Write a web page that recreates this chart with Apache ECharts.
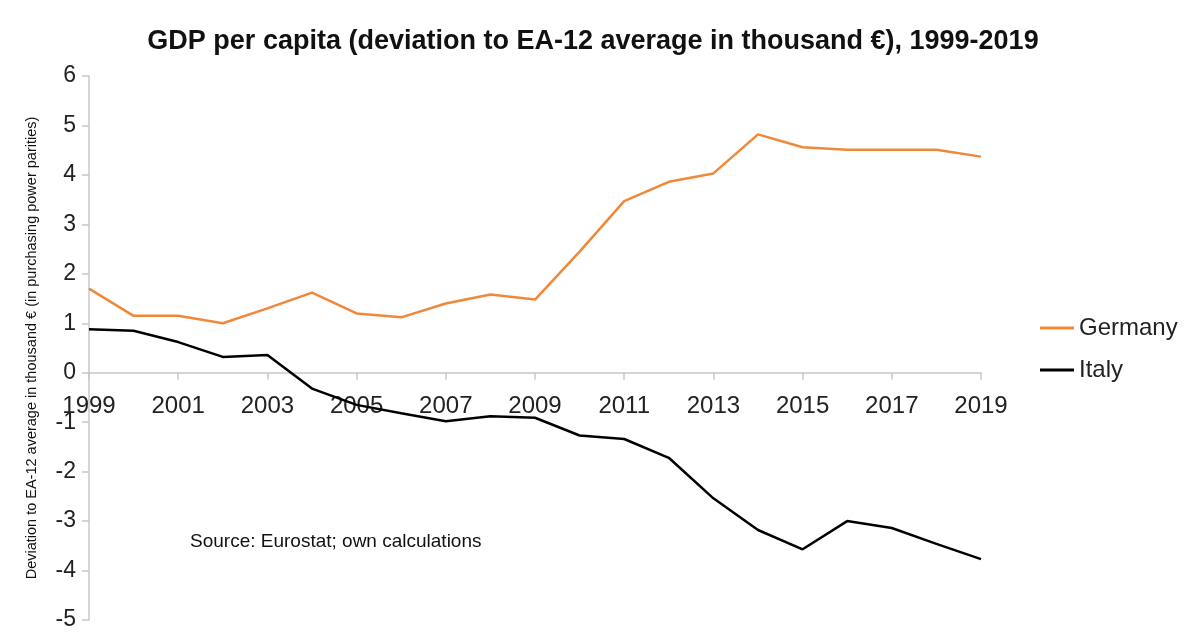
<!DOCTYPE html>
<html>
<head>
<meta charset="utf-8">
<script src="https://cdn.jsdelivr.net/npm/echarts@6/dist/echarts.min.js"></script>
<style>html,body{margin:0;padding:0;background:#fff}#c{width:1200px;height:643px}</style>
</head>
<body>
<div id="c"></div>
<script>
var years = ['1999','2000','2001','2002','2003','2004','2005','2006','2007','2008','2009','2010','2011','2012','2013','2014','2015','2016','2017','2018','2019'];
var germany = [1.70,1.15,1.15,1.00,1.30,1.62,1.20,1.12,1.40,1.58,1.48,2.45,3.47,3.86,4.03,4.82,4.56,4.51,4.51,4.51,4.37];
var italy = [0.88,0.85,0.62,0.32,0.36,-0.32,-0.65,-0.82,-0.98,-0.88,-0.91,-1.27,-1.34,-1.72,-2.54,-3.18,-3.57,-3.00,-3.14,-3.46,-3.77];
var yMin = -5, yMax = 6;

var font = 'Liberation Sans, Arial, Helvetica, sans-serif';
var gridTop = 76, gridBottom = 23, H = 643;
var gridH = H - gridTop - gridBottom;
var zeroOffset = -((0 - yMin) / (yMax - yMin)) * gridH;

var chart = echarts.init(document.getElementById('c'));
chart.setOption({
  animation: false,
  backgroundColor: '#fff',
  title: {
    text: 'GDP per capita (deviation to EA-12 average in thousand €), 1999-2019',
    left: 588, textAlign: 'center', top: 23,
    textStyle: {fontFamily: font, fontSize: 27, fontWeight: 'bold', color: '#111'}
  },
  legend: {
    orient: 'vertical', left: 1035, top: 311,
    itemWidth: 34, itemHeight: 3, itemGap: 18, icon: 'rect',
    textStyle: {fontFamily: font, fontSize: 24, color: '#222'},
    data: ['Germany','Italy']
  },
  grid: {left: 89, right: 219, top: gridTop, bottom: gridBottom, containLabel: false},
  graphic: [{
    type: 'text', left: 190, top: 532,
    style: {text: 'Source: Eurostat; own calculations', font: '19px ' + font, fill: '#111'}
  }],
  xAxis: {
    type: 'category', data: years, boundaryGap: false,
    offset: zeroOffset,
    axisLine: {onZero: false, lineStyle: {color: '#c8c8c8', width: 1.5}},
    axisTick: {show: true, interval: 1, length: 7, lineStyle: {color: '#c8c8c8', width: 1.5}},
    axisLabel: {interval: 1, margin: 22, fontFamily: font, fontSize: 24, color: '#222'},
    splitLine: {show: false}
  },
  yAxis: {
    type: 'value', min: yMin, max: yMax, interval: 1,
    name: 'Deviation to EA-12 average in thousand € (in purchasing power parities)',
    nameLocation: 'middle', nameGap: 50, nameRotate: 90,
    nameTextStyle: {fontFamily: font, fontSize: 14.5, color: '#111'},
    axisLine: {show: true, lineStyle: {color: '#c8c8c8', width: 1.5}},
    axisTick: {show: true, length: 7, lineStyle: {color: '#c8c8c8', width: 1.5}},
    axisLabel: {margin: 13, fontFamily: font, fontSize: 23, color: '#222', padding: [8,0,0,0]},
    splitLine: {show: false}
  },
  series: [
    {name: 'Germany', type: 'line', data: germany, symbol: 'none', color: '#F0883A',
     lineStyle: {color: '#F0883A', width: 2.5}},
    {name: 'Italy', type: 'line', data: italy, symbol: 'none', color: '#000',
     lineStyle: {color: '#000', width: 2.5}}
  ]
});
</script>
</body>
</html>
